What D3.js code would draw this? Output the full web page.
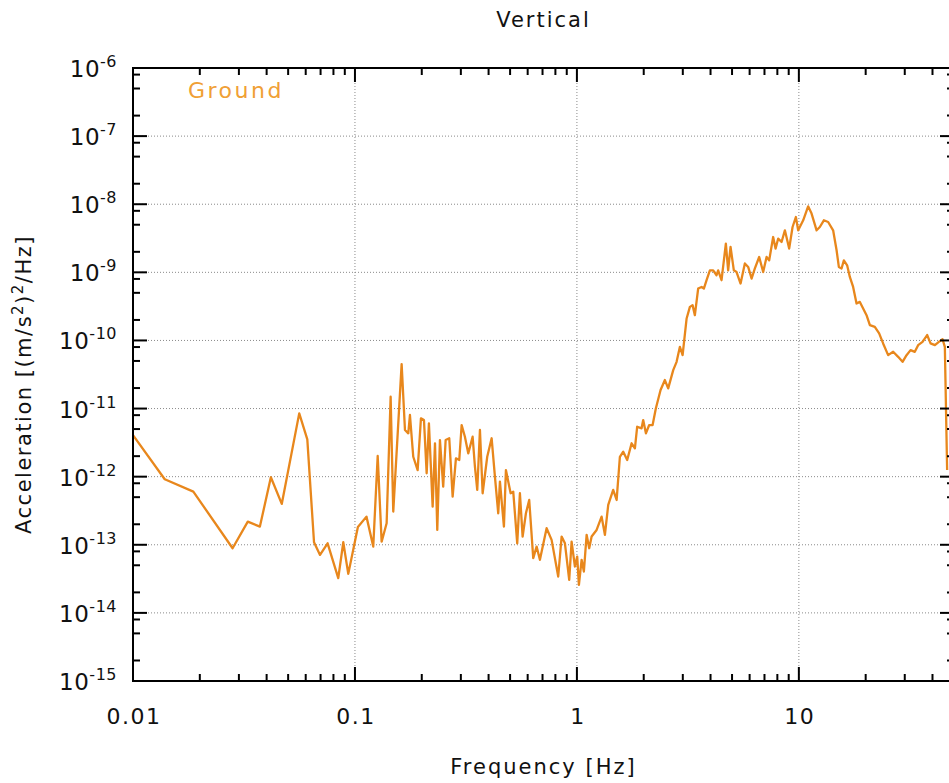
<!DOCTYPE html>
<html>
<head>
<meta charset="utf-8">
<script src="https://cdn.jsdelivr.net/npm/d3@7"></script>
<style>
  html, body { margin: 0; padding: 0; background: #fff; }
  svg { display: block; }
  text { font-family: "DejaVu Sans", "Lato", sans-serif; fill: #111; }
</style>
</head>
<body>
<svg id="chart" width="949" height="783"></svg>
<script>
// ---------- data ----------
const chartTitle = "Vertical";
const seriesName = "Ground";
const xAxisTitle = "Frequency [Hz]";
const xTickValues = [0.01, 0.1, 1, 10];
const xTickLabels = ["0.01", "0.1", "1", "10"];
const yTickExponents = [-6, -7, -8, -9, -10, -11, -12, -13, -14, -15];

const freqHz = [
  0.01, 0.0139, 0.0187, 0.0281, 0.0329, 0.0373, 0.0418, 0.0468, 0.0561, 0.061,
  0.0654, 0.0696, 0.0753, 0.0841, 0.0886, 0.0933, 0.1031, 0.1127, 0.1209, 0.1266,
  0.1319, 0.1389, 0.1448, 0.1488, 0.1623, 0.168, 0.1739, 0.1769, 0.1831, 0.1916,
  0.1983, 0.2046, 0.2104, 0.2154, 0.2239, 0.2294, 0.2349, 0.2415, 0.2498, 0.2562,
  0.266, 0.2755, 0.2851, 0.2951, 0.3025, 0.3129, 0.3239, 0.339, 0.3472, 0.3556,
  0.3657, 0.3761, 0.3944, 0.4129, 0.4272, 0.4421, 0.45, 0.469, 0.4788, 0.5028,
  0.5166, 0.5384, 0.5536, 0.5694, 0.5892, 0.6097, 0.6357, 0.6584, 0.6813, 0.7303,
  0.7691, 0.8237, 0.8533, 0.8831, 0.9232, 0.9465, 0.9795, 1.003, 1.021, 1.05,
  1.075, 1.106, 1.136, 1.165, 1.227, 1.292, 1.337, 1.384, 1.457, 1.51,
  1.562, 1.617, 1.685, 1.764, 1.825, 1.869, 1.956, 1.989, 2.046, 2.117,
  2.193, 2.269, 2.382, 2.491, 2.578, 2.716, 2.813, 2.911, 2.994, 3.121,
  3.229, 3.32, 3.4, 3.518, 3.645, 3.733, 3.839, 3.973, 4.111, 4.258,
  4.329, 4.484, 4.689, 4.802, 4.923, 5.094, 5.24, 5.462, 5.711, 5.91,
  6.123, 6.336, 6.626, 6.906, 7.154, 7.35, 7.66, 7.852, 8.07, 8.359,
  8.65, 9.044, 9.368, 9.694, 9.93, 10.46, 11.01, 11.41, 12.02, 12.43,
  12.96, 13.55, 14.27, 14.79, 15.14, 15.57, 15.95, 16.5, 16.97, 17.56,
  18.19, 18.83, 19.48, 20.18, 20.89, 21.99, 23.0, 23.97, 25.25, 26.6,
  28.01, 29.32, 30.56, 31.86, 33.3, 34.46, 36.07, 37.84, 39.2, 41.0,
  42.73, 44.4, 45.47, 46.56
];

const groundPSD = [
  4.08e-12, 9.16e-13, 6.03e-13, 8.9e-14, 2.19e-13, 1.85e-13, 9.8e-13, 3.98e-13, 8.5e-12, 3.53e-12,
  1.09e-13, 7.1e-14, 1.05e-13, 3.24e-14, 1.09e-13, 3.74e-14, 1.83e-13, 2.59e-13, 9.4e-14, 2.01e-12,
  1.11e-13, 2.07e-13, 1.49e-11, 3.07e-13, 4.5e-11, 4.84e-12, 4.33e-12, 8.04e-12, 1.96e-12, 1.25e-12,
  7.18e-12, 6.78e-12, 1.12e-12, 6.07e-12, 3.63e-13, 3.09e-12, 1.65e-13, 3.45e-12, 7.13e-13, 3.45e-12,
  3.66e-12, 5.09e-13, 1.86e-12, 1.76e-12, 5.73e-12, 3.86e-12, 2.2e-12, 3.86e-12, 1.4e-12, 6.38e-13,
  4.84e-12, 5.71e-13, 1.96e-12, 3.66e-12, 1.0e-12, 2.9e-13, 8.45e-13, 1.85e-13, 1.25e-12, 5.71e-13,
  6.03e-13, 1.05e-13, 5.71e-13, 1.32e-13, 2.9e-13, 4.55e-13, 6.37e-14, 9.4e-14, 6.01e-14, 1.75e-13,
  1.18e-13, 3.42e-14, 1.32e-13, 1.05e-13, 3.05e-14, 1.11e-13, 4.79e-14, 6.71e-14, 2.58e-14, 6.01e-14,
  4.05e-14, 1.4e-13, 8.9e-14, 1.32e-13, 1.65e-13, 2.59e-13, 1.4e-13, 3.85e-13, 6.38e-13, 4.55e-13,
  1.96e-12, 2.33e-12, 1.76e-12, 3.09e-12, 2.61e-12, 5.41e-12, 5.13e-12, 6.78e-12, 4.33e-12, 5.73e-12,
  5.73e-12, 1.01e-11, 1.87e-11, 2.62e-11, 1.98e-11, 3.67e-11, 4.85e-11, 8.05e-11, 6.08e-11, 2.1e-10,
  3.11e-10, 3.3e-10, 2.35e-10, 5.78e-10, 6.1e-10, 5.78e-10, 7.66e-10, 1.07e-9, 1.07e-9, 9.06e-10,
  1.07e-9, 7.66e-10, 2.64e-9, 1.07e-9, 2.36e-9, 1.07e-9, 1.01e-9, 6.85e-10, 1.35e-9, 1.2e-9,
  8.11e-10, 1.14e-9, 1.68e-9, 1.01e-9, 1.68e-9, 1.5e-9, 3.3e-9, 2.23e-9, 3.13e-9, 2.79e-9,
  4.14e-9, 2.23e-9, 4.63e-9, 6.49e-9, 4.14e-9, 5.81e-9, 9.31e-9, 7.28e-9, 4.14e-9, 4.63e-9,
  5.81e-9, 5.48e-9, 4.14e-9, 2.11e-9, 1.2e-9, 1.14e-9, 1.5e-9, 1.27e-9, 8.57e-10, 6.1e-10,
  3.49e-10, 3.68e-10, 2.94e-10, 2.35e-10, 1.68e-10, 1.58e-10, 1.27e-10, 9.04e-11, 6.08e-11, 6.81e-11,
  5.75e-11, 4.85e-11, 6.08e-11, 7.21e-11, 6.81e-11, 8.53e-11, 9.53e-11, 1.2e-10, 9.04e-11, 8.53e-11,
  9.53e-11, 1.04e-10, 8.05e-11, 1.25e-12
];

// ---------- layout ----------
const W = 949, H = 783;
const plotLeft = 133, plotRight = 954, plotTop = 68, plotBottom = 681;
const lineColor = "#E8871C";
const legendColor = "#F0A035";

const svg = d3.select("#chart");

const x = d3.scaleLog().domain([0.01, 50]).range([plotLeft, plotRight]);
const y = d3.scaleLog().domain([1e-15, 1e-6]).range([plotBottom, plotTop]);

// minor tick values
const xMinor = [];
for (let d = -2; d <= 1; d++) {
  for (let m = 2; m <= 9; m++) {
    const v = m * Math.pow(10, d);
    if (v <= 50) xMinor.push(v);
  }
}
const yMinor = [];
for (let e = -15; e < -6; e++) {
  [2, 5, 8].forEach(m => yMinor.push(m * Math.pow(10, e)));
}
const yMajor = yTickExponents.map(e => Math.pow(10, e));

// ---------- grid ----------
const grid = svg.append("g").attr("class", "grid");
grid.selectAll("line.gx").data(xTickValues.filter(v => v > 0.01)).join("line")
  .attr("x1", d => x(d)).attr("x2", d => x(d))
  .attr("y1", plotTop).attr("y2", plotBottom)
  .attr("stroke", "#8a8a8a").attr("stroke-width", 1).attr("stroke-dasharray", "1,2");
grid.selectAll("line.gy").data(yMajor.filter(v => v > 1e-15 && v < 1e-6)).join("line")
  .attr("x1", plotLeft).attr("x2", plotRight)
  .attr("y1", d => y(d)).attr("y2", d => y(d))
  .attr("stroke", "#8a8a8a").attr("stroke-width", 1).attr("stroke-dasharray", "1,2");

// ---------- data line ----------
const pts = d3.range(Math.min(freqHz.length, groundPSD.length)).map(i => [freqHz[i], groundPSD[i]]);
const line = d3.line().x(d => x(d[0])).y(d => y(d[1]));
svg.append("path").datum(pts)
  .attr("d", line)
  .attr("fill", "none")
  .attr("stroke", lineColor)
  .attr("stroke-width", 2.3)
  .attr("stroke-linejoin", "round");

// ---------- frame & ticks ----------
const axes = svg.append("g").attr("stroke", "#000").attr("stroke-width", 2);
axes.append("rect")
  .attr("x", plotLeft).attr("y", plotTop)
  .attr("width", plotRight - plotLeft).attr("height", plotBottom - plotTop)
  .attr("fill", "none");

const majLen = 14, minLen = 7;
axes.selectAll("line.xmajB").data(xTickValues).join("line")
  .attr("x1", d => x(d)).attr("x2", d => x(d))
  .attr("y1", plotBottom).attr("y2", plotBottom - majLen);
axes.selectAll("line.xmajT").data(xTickValues).join("line")
  .attr("x1", d => x(d)).attr("x2", d => x(d))
  .attr("y1", plotTop).attr("y2", plotTop + majLen);
axes.selectAll("line.xminB").data(xMinor).join("line")
  .attr("x1", d => x(d)).attr("x2", d => x(d))
  .attr("y1", plotBottom).attr("y2", plotBottom - minLen);
axes.selectAll("line.xminT").data(xMinor).join("line")
  .attr("x1", d => x(d)).attr("x2", d => x(d))
  .attr("y1", plotTop).attr("y2", plotTop + minLen);
axes.selectAll("line.ymajL").data(yMajor).join("line")
  .attr("x1", plotLeft).attr("x2", plotLeft + majLen)
  .attr("y1", d => y(d)).attr("y2", d => y(d));
axes.selectAll("line.ymajR").data(yMajor).join("line")
  .attr("x1", plotRight).attr("x2", plotRight - majLen)
  .attr("y1", d => y(d)).attr("y2", d => y(d));
axes.selectAll("line.yminL").data(yMinor).join("line")
  .attr("x1", plotLeft).attr("x2", plotLeft + minLen)
  .attr("y1", d => y(d)).attr("y2", d => y(d));
axes.selectAll("line.yminR").data(yMinor).join("line")
  .attr("x1", plotRight).attr("x2", plotRight - minLen)
  .attr("y1", d => y(d)).attr("y2", d => y(d));

// ---------- tick labels ----------
svg.selectAll("text.xlab").data(xTickValues).join("text")
  .attr("class", "xlab")
  .attr("x", d => x(d) + 1)
  .attr("y", 724)
  .attr("text-anchor", "middle")
  .attr("font-size", 22)
  .attr("letter-spacing", 1.5)
  .text((d, i) => xTickLabels[i]);

const ylab = svg.selectAll("text.ylab").data(yTickExponents).join("text")
  .attr("class", "ylab")
  .attr("x", 117)
  .attr("y", d => y(Math.pow(10, d)) + 9)
  .attr("text-anchor", "end")
  .attr("font-size", 23);
ylab.append("tspan").attr("letter-spacing", 0.5).text("10");
ylab.append("tspan").attr("dy", -10).attr("font-size", 16).attr("letter-spacing", 0.5)
  .text(d => "-" + Math.abs(d));

// ---------- titles ----------
svg.append("text")
  .attr("x", (plotLeft + plotRight) / 2)
  .attr("y", 27)
  .attr("text-anchor", "middle")
  .attr("font-size", 21)
  .attr("letter-spacing", 2)
  .text(chartTitle);

svg.append("text")
  .attr("x", (plotLeft + plotRight) / 2)
  .attr("y", 774)
  .attr("text-anchor", "middle")
  .attr("font-size", 21)
  .attr("letter-spacing", 2)
  .text(xAxisTitle);

const yt = svg.append("text")
  .attr("transform", `translate(31, ${(plotTop + plotBottom) / 2 + 10}) rotate(-90)`)
  .attr("text-anchor", "middle")
  .attr("font-size", 21)
  .attr("letter-spacing", 1.5);
yt.append("tspan").text("Acceleration [(m/s");
yt.append("tspan").attr("dy", -8).attr("font-size", 15).text("2");
yt.append("tspan").attr("dy", 8).text(")");
yt.append("tspan").attr("dy", -8).attr("font-size", 15).text("2");
yt.append("tspan").attr("dy", 8).text("/Hz]");

// ---------- legend ----------
svg.append("text")
  .attr("x", 188)
  .attr("y", 98)
  .attr("font-size", 22)
  .attr("letter-spacing", 2.5)
  .style("fill", legendColor)
  .text(seriesName);
</script>
</body>
</html>
